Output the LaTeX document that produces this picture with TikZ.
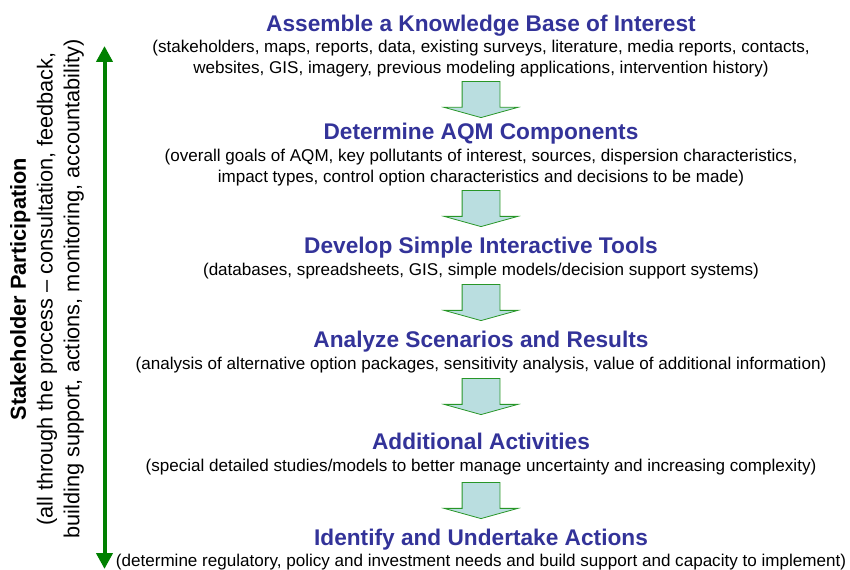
\documentclass[tikz,border=0pt]{standalone}
\usepackage{fontspec}
\setmainfont{Liberation Sans}
\usetikzlibrary{shapes.arrows,arrows.meta}
\definecolor{stepblue}{RGB}{51,51,153}
\definecolor{arrowfill}{RGB}{186,222,224}
\definecolor{arrowline}{RGB}{40,150,40}
\definecolor{partgreen}{RGB}{0,128,0}
\tikzset{
  heading/.style={anchor=base,inner sep=0pt,text=stepblue,
    font=\fontsize{17}{20}\selectfont\bfseries},
  detail/.style={anchor=base,inner sep=0pt,align=center,
    font=\fontsize{12.8}{15.75}\selectfont},
  blockarrow/.style={single arrow,draw=arrowline,fill=arrowfill,line width=0.6pt,
    rotate=-90,anchor=tip,inner xsep=0pt,inner ysep=13.875pt,minimum height=27pt,
    single arrow head extend=13.5pt,single arrow tip angle=149},
  sideline/.style={partgreen,line width=3pt,
    {Triangle[length=12pt,width=12pt]}-{Triangle[length=12pt,width=12pt]}}
}
\begin{document}
\begin{tikzpicture}[x=0.75pt,y=-0.75pt]
  \useasboundingbox (0,0) rectangle (850,570);
  \node[heading] (h1) at (481,32) {Assemble a Knowledge Base of Interest};
  \node[detail] (d1) at (481,74) {(stakeholders, maps, reports, data, existing surveys, literature, media reports, contacts,\\websites, GIS, imagery, previous modeling applications, intervention history)};
  \node[heading] (h2) at (481,140) {Determine AQM Components};
  \node[detail] (d2) at (481,183) {(overall goals of AQM, key pollutants of interest, sources, dispersion characteristics,\\impact types, control option characteristics and decisions to be made)};
  \node[heading] (h3) at (481,254) {Develop Simple Interactive Tools};
  \node[detail] (d3) at (481,276) {(databases, spreadsheets, GIS, simple models/decision support systems)};
  \node[heading] (h4) at (481,348) {Analyze Scenarios and Results};
  \node[detail] (d4) at (481,369) {(analysis of alternative option packages, sensitivity analysis, value of additional information)};
  \node[heading] (h5) at (481,449) {Additional Activities};
  \node[detail] (d5) at (481,471) {(special detailed studies/models to better manage uncertainty and increasing complexity)};
  \node[heading] (h6) at (481,545) {Identify and Undertake Actions};
  \node[detail] (d6) at (481,566) {(determine regulatory, policy and investment needs and build support and capacity to implement)};
  \foreach \y [count=\i] in {118,227,321,415,519}
    \node[blockarrow] (arr\i) at (481,\y) {};
  \coordinate (top) at (104.5,46);
  \coordinate (bottom) at (104.5,569);
  \draw[sideline] (top) -- (bottom);
  \node[rotate=90,align=center,inner sep=0pt,font=\fontsize{16.3}{20}\selectfont] (stake) at (47,289)
    {{\bfseries Stakeholder Participation}\\(all through the process – consultation, feedback,\\building support, actions, monitoring, accountability)};
\end{tikzpicture}
\end{document}
